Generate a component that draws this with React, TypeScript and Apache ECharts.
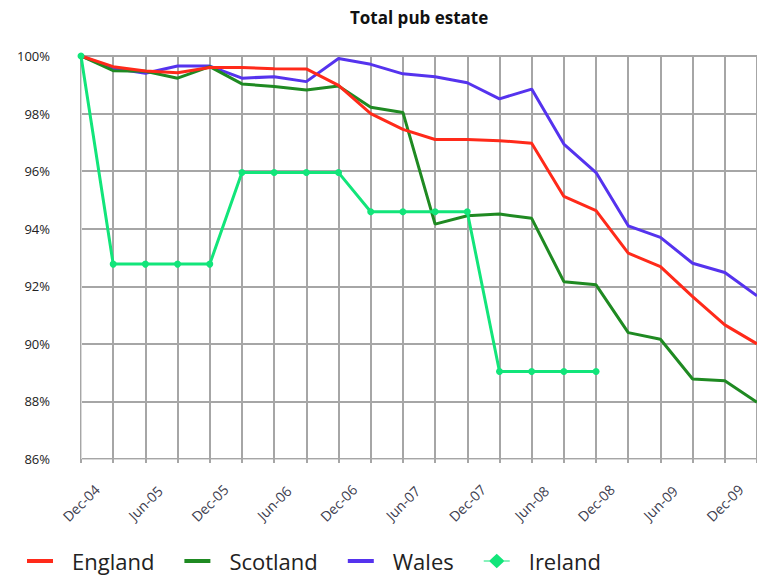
import React, { useEffect, useRef } from "react";
import * as echarts from "echarts";

const categories = [
  "Dec-04", "Mar-05", "Jun-05", "Sep-05", "Dec-05", "Mar-06", "Jun-06", "Sep-06",
  "Dec-06", "Mar-07", "Jun-07", "Sep-07", "Dec-07", "Mar-08", "Jun-08", "Sep-08",
  "Dec-08", "Mar-09", "Jun-09", "Sep-09", "Dec-09", "Mar-10",
];
const england = [100, 99.63, 99.48, 99.42, 99.6, 99.6, 99.56, 99.55, 98.98, 98.0, 97.45, 97.1, 97.1, 97.06, 96.97, 95.12, 94.63, 93.15, 92.68, 91.64, 90.66, 90.0];
const scotland = [100, 99.49, 99.47, 99.23, 99.63, 99.03, 98.94, 98.82, 98.96, 98.22, 98.04, 94.16, 94.45, 94.51, 94.36, 92.16, 92.05, 90.39, 90.16, 88.78, 88.72, 87.97];
const wales = [100, 99.57, 99.4, 99.65, 99.65, 99.23, 99.28, 99.11, 99.91, 99.71, 99.38, 99.28, 99.07, 98.51, 98.85, 96.94, 95.95, 94.1, 93.7, 92.8, 92.48, 91.67];
const ireland = [100, 92.77, 92.77, 92.77, 92.77, 95.95, 95.95, 95.95, 95.95, 94.59, 94.59, 94.59, 94.59, 89.04, 89.04, 89.04, 89.04];
const yTicks = { min: 86, max: 100, interval: 2 };

const LINE_ICON = "path://M0,0H26V4H0Z";
const DIAMOND_ICON = "path://M0,7H6L13.5,0L21,7H27V8H21L13.5,15L6,8H0Z";

export default function App() {
  const ref = useRef<HTMLDivElement>(null);
  useEffect(() => {
    if (!ref.current) return;
    const chart = echarts.init(ref.current, null, { renderer: "svg" });
    const font = "'Open Sans', 'Noto Sans', sans-serif";
    chart.setOption({
      animation: false,
      textStyle: { fontFamily: font },
      title: {
        text: "Total pub estate",
        left: 350,
        top: 9,
        padding: 0,
        textStyle: { fontSize: 17, fontWeight: "bold", color: "#111", fontFamily: font },
      },
      legend: {
        left: 27,
        top: 550,
        padding: 0,
        itemWidth: 26,
        itemHeight: 15,
        itemGap: 30,
        textStyle: { fontSize: 22, color: "#222", fontFamily: font, padding: [0, 0, 0, 14] },
        data: [
          { name: "England", icon: LINE_ICON },
          { name: "Scotland", icon: LINE_ICON },
          { name: "Wales", icon: LINE_ICON },
          { name: "Ireland", icon: DIAMOND_ICON },
        ],
      },
      grid: { left: 81, right: -4, top: 56, bottom: 118, containLabel: false },
      xAxis: {
        type: "category",
        data: categories,
        boundaryGap: false,
        axisLine: { lineStyle: { color: "#d9d9d9", width: 1 } },
        axisTick: { show: true, interval: 0, length: 4, lineStyle: { color: "#a6a6a6", width: 2 } },
        splitLine: { show: true, interval: 0, lineStyle: { color: "#a6a6a6", width: 2 } },
        axisLabel: {
          interval: 1,
          rotate: 45,
          margin: 44,
          align: "center",
          verticalAlign: "middle",
          fontSize: 14,
          color: "#404050",
          fontFamily: font,
        },
      },
      yAxis: {
        type: "value",
        min: yTicks.min,
        max: yTicks.max,
        interval: yTicks.interval,
        axisLine: { show: true, lineStyle: { color: "#d9d9d9", width: 1 } },
        axisTick: { show: false },
        splitLine: { show: true, lineStyle: { color: "#a6a6a6", width: 2 } },
        axisLabel: {
          formatter: "{value}%",
          margin: 31,
          fontSize: 13,
          color: "#222",
          fontFamily: font,
        },
      },
      series: [
        {
          name: "England",
          type: "line",
          data: england,
          symbol: "none",
          lineStyle: { width: 3, color: "#ff2a1a" },
          itemStyle: { color: "#ff2a1a" },
          z: 4,
        },
        {
          name: "Scotland",
          type: "line",
          data: scotland,
          symbol: "none",
          lineStyle: { width: 3, color: "#1f8a22" },
          itemStyle: { color: "#1f8a22" },
          z: 3,
        },
        {
          name: "Wales",
          type: "line",
          data: wales,
          symbol: "none",
          lineStyle: { width: 3, color: "#5533ee" },
          itemStyle: { color: "#5533ee" },
          z: 2,
        },
        {
          name: "Ireland",
          type: "line",
          data: ireland,
          symbol: "circle",
          symbolSize: 7,
          lineStyle: { width: 3, color: "#12e57a" },
          itemStyle: { color: "#12e57a" },
          z: 5,
        },
      ],
    });
    return () => chart.dispose();
  }, []);
  return (
    <div
      ref={ref}
      style={{ position: "absolute", left: 0, top: 0, width: 757, height: 577, overflow: "hidden", background: "#fff" }}
    />
  );
}
